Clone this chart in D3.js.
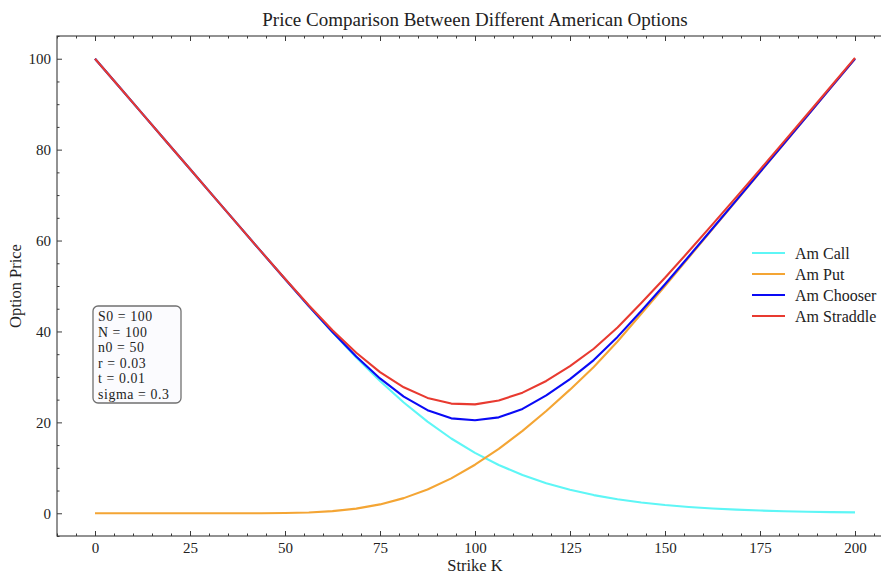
<!DOCTYPE html>
<html>
<head>
<meta charset="utf-8">
<script src="https://cdn.jsdelivr.net/npm/d3@7"></script>
<style>
  html, body { margin: 0; padding: 0; background: #fff; overflow: hidden; }
  svg { display: block; }
  text { font-family: "Liberation Serif", "DejaVu Serif", serif; fill: #222; }
</style>
</head>
<body>
<svg id="chart" width="881" height="574"></svg>
<script>
// Strike grid and option prices (S0 = 100, sigma = 0.3, r = 0.03)
const strikes = [0, 6.25, 12.5, 18.75, 25, 31.25, 37.5, 43.75, 50, 56.25, 62.5, 68.75, 75, 81.25, 87.5, 93.75,
  100, 106.25, 112.5, 118.75, 125, 131.25, 137.5, 143.75, 150, 156.25, 162.5, 168.75, 175, 181.25, 187.5, 193.75, 200];

const amCall = [100, 93.94, 87.87, 81.80, 75.74, 69.67, 63.61, 57.55, 51.53, 45.59, 39.81, 34.28, 29.11, 24.38, 20.15, 16.45,
  13.28, 10.62, 8.41, 6.61, 5.16, 4.00, 3.08, 2.37, 1.81, 1.38, 1.05, 0.80, 0.60, 0.46, 0.35, 0.26, 0.20];

const amPut = [0, 0, 0, 0, 0, 0, 0, 0.01, 0.06, 0.18, 0.47, 1.03, 1.95, 3.33, 5.23, 7.68,
  10.68, 14.18, 18.13, 22.50, 27.20, 32.20, 37.80, 43.90, 50.00, 56.25, 62.50, 68.75, 75.00, 81.25, 87.50, 93.75, 100.00];

const amChooser = [100, 93.94, 87.87, 81.80, 75.74, 69.67, 63.61, 57.55, 51.54, 45.60, 39.86, 34.47, 29.66, 25.65, 22.68, 20.88,
  20.45, 21.10, 22.95, 25.92, 29.50, 33.70, 38.80, 44.50, 50.40, 56.50, 62.65, 68.84, 75.06, 81.28, 87.52, 93.76, 100.00];

const amStraddle = [100, 93.94, 87.87, 81.80, 75.74, 69.67, 63.61, 57.56, 51.59, 45.77, 40.28, 35.31, 31.06, 27.71, 25.38, 24.13,
  23.96, 24.80, 26.54, 29.11, 32.36, 36.20, 40.88, 46.27, 51.81, 57.63, 63.55, 69.55, 75.60, 81.71, 87.85, 94.01, 100.20];

const seriesNames = ["Am Call", "Am Put", "Am Chooser", "Am Straddle"];
const seriesValues = [amCall, amPut, amChooser, amStraddle];
const seriesColors = ["#5ef6f6", "#f4a534", "#0a0af5", "#e83a30"];

const xTicks = [0, 25, 50, 75, 100, 125, 150, 175, 200];
const yTicks = [0, 20, 40, 60, 80, 100];

const paramLines = ["S0 = 100", "N = 100", "n0 = 50", "r = 0.03", "t = 0.01", "sigma = 0.3"];

const titleText = "Price Comparison Between Different American Options";
const xLabel = "Strike K";
const yLabel = "Option Price";

// ---- layout ----
const svg = d3.select("#chart");
const plot = { left: 57, top: 36, right: 893, bottom: 536 };

const x = d3.scaleLinear().domain([-10, 210]).range([plot.left, plot.right]);
const y = d3.scaleLinear().domain([-5, 105]).range([plot.bottom, plot.top]);

const axisColor = "#3a3a3a";

// ---- lines ----
const line = d3.line().x(d => x(d[0])).y(d => y(d[1]));
const linesG = svg.append("g");
seriesValues.forEach((vals, i) => {
  linesG.append("path")
    .datum(strikes.map((k, j) => [k, vals[j]]))
    .attr("d", line)
    .attr("fill", "none")
    .attr("stroke", seriesColors[i])
    .attr("stroke-width", 2.1)
    .attr("stroke-linejoin", "round");
});

// ---- axes with inward ticks ----
function styleAxis(g) {
  g.select(".domain").remove();
  g.selectAll("line").attr("stroke", axisColor).attr("stroke-width", 1);
  g.selectAll("text").style("font-family", '"Liberation Serif", serif').style("font-size", "15px").attr("fill", "#222");
}

const xMinor = d3.range(-10, 211, 5).filter(v => v % 25 !== 0);
const yMinor = d3.range(-5, 106, 5).filter(v => v % 20 !== 0);

// bottom
svg.append("g").attr("transform", `translate(0,${plot.bottom})`)
  .call(d3.axisBottom(x).tickValues(xTicks).tickFormat(d3.format("d")).tickSizeInner(-5).tickSizeOuter(0).tickPadding(6))
  .call(styleAxis);
svg.append("g").attr("transform", `translate(0,${plot.bottom})`)
  .call(d3.axisBottom(x).tickValues(xMinor).tickFormat("").tickSizeInner(-2.5).tickSizeOuter(0))
  .call(styleAxis);
// top
svg.append("g").attr("transform", `translate(0,${plot.top})`)
  .call(d3.axisTop(x).tickValues(xTicks).tickFormat("").tickSizeInner(-5).tickSizeOuter(0))
  .call(styleAxis);
svg.append("g").attr("transform", `translate(0,${plot.top})`)
  .call(d3.axisTop(x).tickValues(xMinor).tickFormat("").tickSizeInner(-2.5).tickSizeOuter(0))
  .call(styleAxis);
// left
svg.append("g").attr("transform", `translate(${plot.left},0)`)
  .call(d3.axisLeft(y).tickValues(yTicks).tickFormat(d3.format("d")).tickSizeInner(-5).tickSizeOuter(0).tickPadding(6))
  .call(styleAxis);
svg.append("g").attr("transform", `translate(${plot.left},0)`)
  .call(d3.axisLeft(y).tickValues(yMinor).tickFormat("").tickSizeInner(-2.5).tickSizeOuter(0))
  .call(styleAxis);
// right
svg.append("g").attr("transform", `translate(${plot.right},0)`)
  .call(d3.axisRight(y).tickValues(yTicks).tickFormat("").tickSizeInner(-5).tickSizeOuter(0))
  .call(styleAxis);

// frame
svg.append("rect")
  .attr("x", plot.left).attr("y", plot.top)
  .attr("width", plot.right - plot.left).attr("height", plot.bottom - plot.top)
  .attr("fill", "none").attr("stroke", axisColor).attr("stroke-width", 1.1);

// ---- titles ----
const cx = (plot.left + plot.right) / 2;
svg.append("text").attr("x", cx).attr("y", 26).attr("text-anchor", "middle")
  .style("font-size", "19px").text(titleText);
svg.append("text").attr("x", cx).attr("y", 571).attr("text-anchor", "middle")
  .style("font-size", "16.5px").text(xLabel);
svg.append("text").attr("transform", `translate(21,${(plot.top + plot.bottom) / 2}) rotate(-90)`)
  .attr("text-anchor", "middle").style("font-size", "16.5px").text(yLabel);

// ---- legend ----
const legend = svg.append("g").attr("transform", "translate(752,253)");
seriesNames.forEach((name, i) => {
  const row = legend.append("g").attr("transform", `translate(0,${i * 21})`);
  row.append("line").attr("x1", 0).attr("x2", 33).attr("y1", 0).attr("y2", 0)
    .attr("stroke", seriesColors[i]).attr("stroke-width", 2.1);
  row.append("text").attr("x", 43).attr("y", 5.5).style("font-size", "16px").text(name);
});

// ---- parameter box ----
const box = svg.append("g").attr("transform", "translate(93,306)");
box.append("rect").attr("x", 0).attr("y", 0).attr("width", 88).attr("height", 97)
  .attr("rx", 5).attr("ry", 5)
  .attr("fill", "#fbfbfe").attr("stroke", "#707070").attr("stroke-width", 1.3);
paramLines.forEach((t, i) => {
  box.append("text").attr("x", 5).attr("y", 15 + i * 15.5)
    .style("font-size", "13.8px").style("letter-spacing", "0.6px").text(t);
});
</script>
</body>
</html>
